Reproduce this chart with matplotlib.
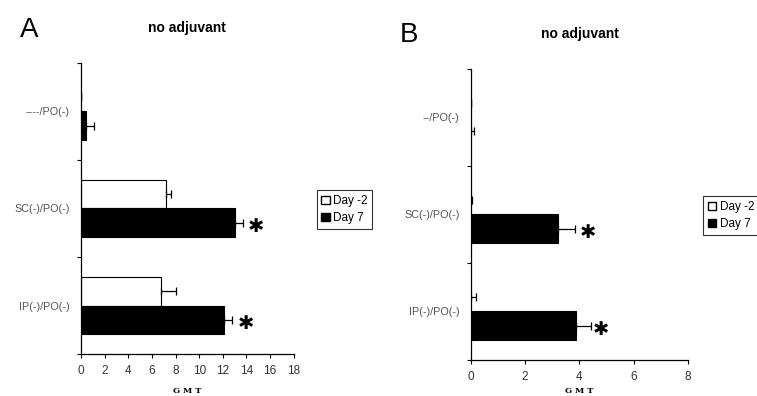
import numpy as np
import matplotlib.pyplot as plt
from matplotlib.patches import Patch

# panel A data
cats_a = ['----/PO(-)', 'SC(-)/PO(-)', 'IP(-)/PO(-)']
a_day_m2 = [0.0, 7.2, 6.75]
a_day_m2_err = [0.0, 0.4, 1.3]
a_day7 = [0.4, 13.0, 12.1]
a_day7_err = [0.7, 0.7, 0.7]
a_star_x = [14.8, 14.0]

# panel B data
cats_b = ['--/PO(-)', 'SC(-)/PO(-)', 'IP(-)/PO(-)']
b_day_m2 = [0.0, 0.0, 0.0]
b_day_m2_err = [0.0, 0.05, 0.2]
b_day7 = [0.0, 3.2, 3.87]
b_day7_err = [0.1, 0.64, 0.55]
b_star_x = [4.3, 4.79]

a_xticks = [0, 2, 4, 6, 8, 10, 12, 14, 16, 18]
b_xticks = [0, 2, 4, 6, 8]

plt.rcParams['font.family'] = ['Liberation Sans', 'DejaVu Sans']

fig = plt.figure(figsize=(7.57, 3.96), dpi=100)
ax_a = fig.add_axes([0.107, 0.106, 0.281, 0.735])
ax_b = fig.add_axes([0.622, 0.091, 0.287, 0.735])

h = 0.29


def draw_panel(ax, cats, m2, m2_err, d7, d7_err, star_x, xticks, xpad):
    y = np.arange(len(cats))
    ax.barh(y - h / 2, m2, height=h, color='white', edgecolor='black',
            linewidth=[0.8 if v > 0 else 0 for v in m2])
    ax.barh(y + h / 2, d7, height=h, color='black', edgecolor='black',
            linewidth=[0.8 if v > 0 else 0 for v in d7])
    ax.errorbar(m2, y - h / 2, xerr=[np.zeros(len(cats)), m2_err], fmt='none',
                ecolor='black', elinewidth=0.9, capsize=3, capthick=0.9)
    ax.errorbar(d7, y + h / 2, xerr=[np.zeros(len(cats)), d7_err], fmt='none',
                ecolor='black', elinewidth=0.9, capsize=3, capthick=0.9)
    for i, sx in enumerate(star_x):
        ax.text(sx, y[i + 1] + h / 2 + 0.04, '\u2731', fontsize=14, fontweight='bold',
                ha='center', va='center', family=['DejaVu Sans'])
    ax.set_ylim(len(cats) - 0.5, -0.5)
    ax.set_xlim(xticks[0], xticks[-1])
    ax.set_xticks(xticks)
    ax.set_yticks(np.arange(len(cats) + 1) - 0.5)
    ax.set_yticklabels([])
    ax.set_yticks(y, minor=True)
    ax.set_yticklabels(cats, minor=True, fontsize=7.8, color='#555555')
    ax.tick_params(axis='y', which='major', length=3, width=0.8)
    ax.tick_params(axis='y', which='minor', length=0, pad=8)
    ax.tick_params(axis='x', length=3, width=0.8, labelsize=8.5, labelcolor='#333333', pad=5)
    for s in ['top', 'right']:
        ax.spines[s].set_visible(False)
    for s in ['left', 'bottom']:
        ax.spines[s].set_linewidth(0.9)
    ax.set_xlabel('G M T', fontsize=6, fontweight='bold', family='DejaVu Serif', labelpad=xpad)
    ax.set_title('no adjuvant', fontsize=10, fontweight='bold', pad=22)


draw_panel(ax_a, cats_a, a_day_m2, a_day_m2_err, a_day7, a_day7_err, a_star_x, a_xticks, 7)
draw_panel(ax_b, cats_b, b_day_m2, b_day_m2_err, b_day7, b_day7_err, b_star_x, b_xticks, 3)

fig.text(0.026, 0.925, 'A', fontsize=20, va='center')
fig.text(0.528, 0.912, 'B', fontsize=20, va='center')

handles = [Patch(facecolor='white', edgecolor='black', label='Day -2'),
           Patch(facecolor='black', edgecolor='black', label='Day 7')]
for x0, y0 in [(0.455, 0.471), (0.966, 0.456)]:
    leg = fig.legend(handles=handles, loc='center', bbox_to_anchor=(x0, y0),
                     fontsize=8.5, frameon=True, fancybox=False, handlelength=0.7,
                     handleheight=0.7, handletextpad=0.3, borderpad=0.4,
                     labelspacing=0.45, borderaxespad=0)
    leg.get_frame().set_edgecolor('black')
    leg.get_frame().set_linewidth(0.8)

fig.savefig('out.png', dpi=100)
